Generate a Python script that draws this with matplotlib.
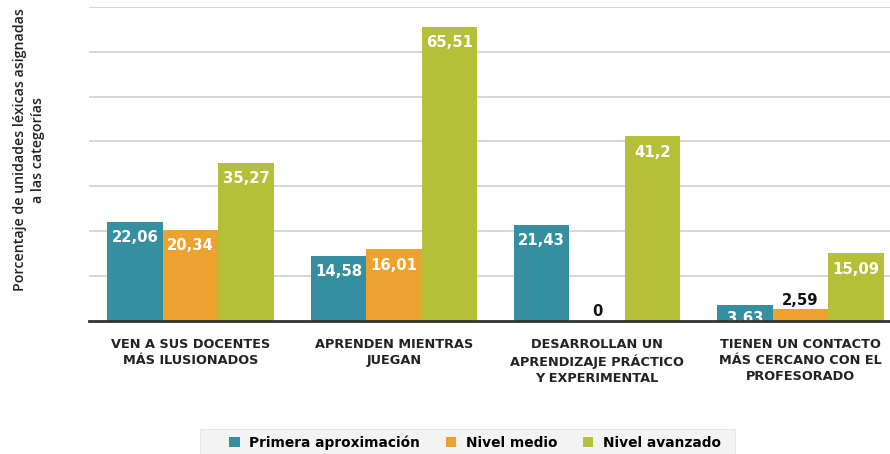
import numpy as np
import matplotlib
matplotlib.use("Agg")
from matplotlib import pyplot as plt
from matplotlib.patches import Rectangle

categories = ['VEN A SUS DOCENTES\nMÁS ILUSIONADOS',
              'APRENDEN MIENTRAS\nJUEGAN',
              'DESARROLLAN UN\nAPRENDIZAJE PRÁCTICO\nY EXPERIMENTAL',
              'TIENEN UN CONTACTO\nMÁS CERCANO CON EL\nPROFESORADO']
series_names = ['Primera aproximación', 'Nivel medio', 'Nivel avanzado']
primera = [22.06, 14.58, 21.43, 3.63]
medio = [20.34, 16.01, 0, 2.59]
avanzado = [35.27, 65.51, 41.2, 15.09]
colors = ['#358fa0', '#eca22f', '#b5bf38']

plt.rcParams['font.family'] = ['DejaVu Sans']

fig = plt.figure(figsize=(8.9, 4.54), dpi=100)
# plot area runs past the right edge, as in the original
ax = fig.add_axes([89 / 890, (454 - 321) / 454, 813 / 890, (321 - 6.7) / 454])

x = np.arange(len(categories))
w = 0.273
for i, (vals, name, c) in enumerate(zip([primera, medio, avanzado], series_names, colors)):
    xs = x + (i - 1) * w
    ax.bar(xs, vals, width=w, color=c, label=name, zorder=2)
    for xi, v in zip(xs, vals):
        txt = f'{v:g}'.replace('.', ',')
        if v >= 5:
            ax.text(xi, v - 1.9, txt, ha='center', va='top', color='white',
                    fontsize=10.7, fontweight='bold', zorder=3)
        elif v >= 3:
            ax.text(xi, v - 1.3, txt, ha='center', va='top', color='white',
                    fontsize=10.7, fontweight='bold', zorder=3)
        else:
            ax.text(xi, v + 0.4, txt, ha='center', va='bottom', color='#111111',
                    fontsize=10.7, fontweight='bold', zorder=3)

ax.set_xlim(-0.5, 3.5)
ax.set_ylim(0, 70)
ax.set_yticks(np.arange(10, 71, 10))
ax.yaxis.grid(True, color='#d0d0d0', linewidth=1.2, zorder=0)
ax.tick_params(axis='y', length=0, labelleft=False)
ax.tick_params(axis='x', length=0, pad=12)
ax.set_xticks(x)
ax.set_xticklabels(categories, fontsize=9.3, fontweight='bold', color='#222222',
                   linespacing=1.3)
for s in ['top', 'right', 'left']:
    ax.spines[s].set_visible(False)
ax.spines['bottom'].set_color('#333333')
ax.spines['bottom'].set_linewidth(2)
ax.spines['bottom'].set_zorder(4)

fig.text(29 / 890, 1 - 150 / 454, 'Porcentaje de unidades léxicas asignadas\na las categorías',
         rotation=90, ha='center', va='center', fontsize=10.2, fontweight='semibold',
         color='#222222', linespacing=1.3, family=['Open Sans', 'DejaVu Sans'])

fig.patches.append(Rectangle((200 / 890, 0), 535 / 890, 25 / 454, transform=fig.transFigure,
                             facecolor='#f3f3f3', edgecolor='#e6e6e6', linewidth=0.8, zorder=0))
leg = fig.legend(loc='center', bbox_to_anchor=(475 / 890, 1 - 443 / 454), ncol=3, frameon=False,
                 handlelength=0.75, handleheight=0.75, columnspacing=1.85, handletextpad=0.7,
                 prop={'size': 9.9, 'weight': 'bold'})

fig.savefig('out.png', dpi=100)
